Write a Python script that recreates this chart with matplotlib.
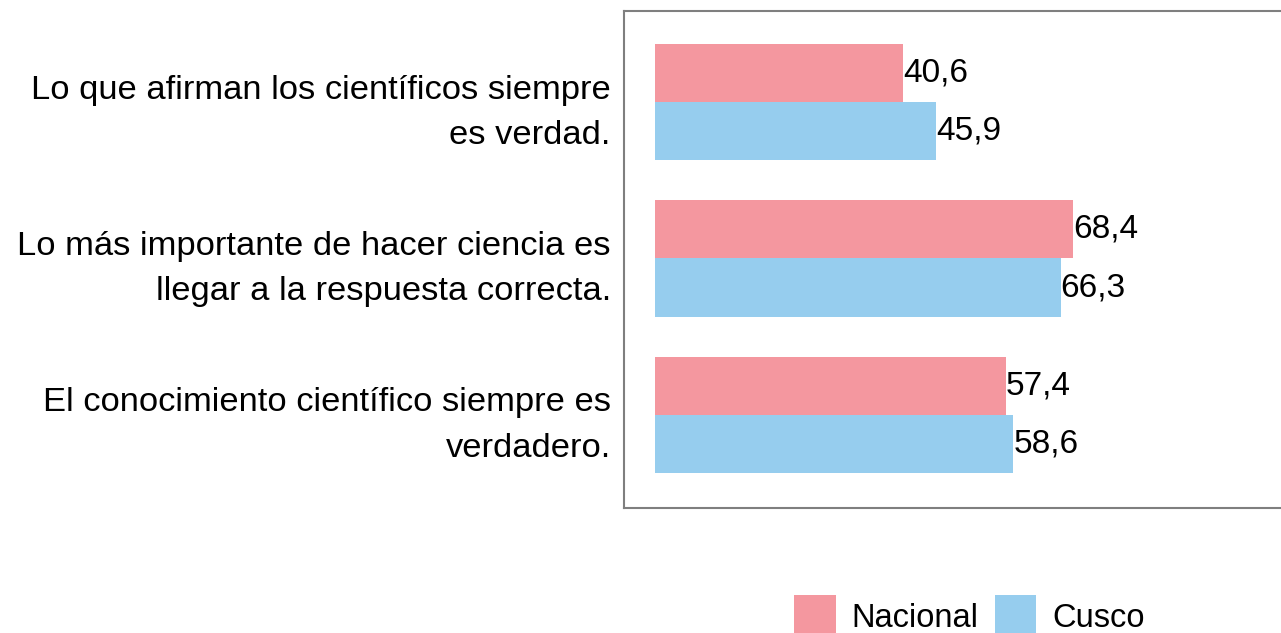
import matplotlib
matplotlib.use("Agg")
import matplotlib.pyplot as plt
import matplotlib.transforms as mtransforms
import numpy as np

plt.rcParams["font.family"] = ["Liberation Sans", "DejaVu Sans"]

categories = [
    "Lo que afirman los científicos siempre\nes verdad.",
    "Lo más importante de hacer ciencia es\nllegar a la respuesta correcta.",
    "El conocimiento científico siempre es\nverdadero.",
]
nacional = [40.6, 68.4, 57.4]
cusco = [45.9, 66.3, 58.6]
series = ["Nacional", "Cusco"]
colors = ["#F4979F", "#96CDEE"]

W, H = 1281, 633
fig = plt.figure(figsize=(W / 100, H / 100), dpi=100)

# axes box runs off the right edge of the canvas
x0, x1 = 624, 1291
y_top, y_bot = 11, 508
ax = fig.add_axes([x0 / W, 1 - y_bot / H, (x1 - x0) / W, (y_bot - y_top) / H])

y = np.arange(len(categories))
h = 0.372
ax.barh(y - h / 2, nacional, height=h, color=colors[0], label=series[0])
ax.barh(y + h / 2, cusco, height=h, color=colors[1], label=series[1])

fs_val = 24
for yi, v in zip(y, nacional):
    ax.text(v, yi - h / 2, f"{v:.1f}".replace(".", ","), va="center", ha="left", fontsize=fs_val)
for yi, v in zip(y, cusco):
    ax.text(v, yi + h / 2, f"{v:.1f}".replace(".", ","), va="center", ha="left", fontsize=fs_val)

ax.set_xlim(-5.1, 104)
ax.set_ylim(2.596, -0.583)
ax.set_yticks(y)
ax.set_yticklabels(categories, fontsize=24.8, ha="right", linespacing=1.6)
ax.tick_params(axis="y", length=0, pad=9.5)
shift = mtransforms.ScaledTranslation(0, 0, fig.dpi_scale_trans)
for lbl in ax.get_yticklabels():
    lbl.set_transform(lbl.get_transform() + shift)
ax.set_xticks([])
for s in ax.spines.values():
    s.set_color("#7f7f7f")
    s.set_linewidth(1.5)

fig.legend(loc="upper left", bbox_to_anchor=(794 / W, 1 - 595 / H), ncol=2,
           frameon=False, fontsize=23.5, borderpad=0, borderaxespad=0,
           handlelength=1.28, handleheight=1.6, handletextpad=0.48,
           columnspacing=0.5)

plt.savefig("out.png", dpi=100)
